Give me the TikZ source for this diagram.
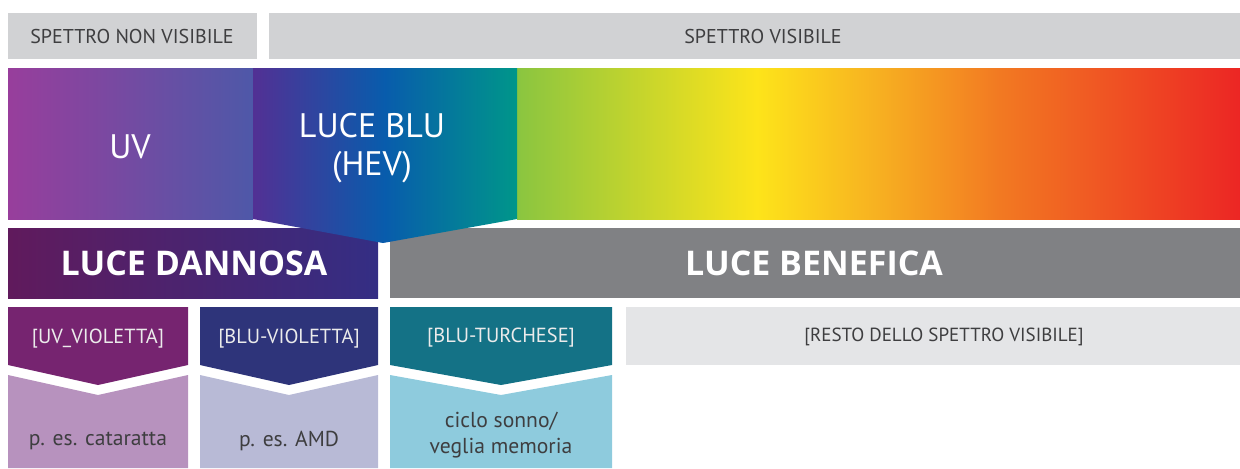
\documentclass[tikz,border=0pt]{standalone}
\usepackage{fontspec}
\setmainfont{PT Sans}
\newfontfamily\titlefont{Open Sans}
\usepackage{xcolor}
\usepackage{tikz}
\usetikzlibrary{positioning}
\definecolor{bargray}{RGB}{209, 210, 212}
\definecolor{restogray}{RGB}{228, 229, 231}
\definecolor{textgray}{RGB}{62, 62, 64}
\definecolor{uvleft}{RGB}{152, 62, 156}
\definecolor{uvright}{RGB}{78, 88, 168}
\definecolor{hevviolet}{RGB}{82, 48, 148}
\definecolor{hevblue}{RGB}{8, 92, 172}
\definecolor{hevteal}{RGB}{0, 150, 138}
\definecolor{specgreen}{RGB}{138, 197, 64}
\definecolor{specyellow}{RGB}{253, 228, 26}
\definecolor{specamber}{RGB}{247, 176, 33}
\definecolor{specorange}{RGB}{242, 121, 34}
\definecolor{specred}{RGB}{236, 38, 36}
\definecolor{dannosaleft}{RGB}{96, 26, 92}
\definecolor{dannosaright}{RGB}{52, 46, 132}
\definecolor{beneficagray}{RGB}{128, 129, 132}
\definecolor{uvvhead}{RGB}{118, 36, 112}
\definecolor{uvvbody}{RGB}{183, 146, 190}
\definecolor{bvhead}{RGB}{46, 52, 122}
\definecolor{bvbody}{RGB}{184, 186, 214}
\definecolor{bthead}{RGB}{20, 114, 134}
\definecolor{btbody}{RGB}{142, 203, 221}
\pgfdeclarehorizontalshading{hevshade}{100bp}{color(0bp)=(hevviolet); color(25bp)=(hevviolet);
    color(50bp)=(hevblue); color(75bp)=(hevteal); color(100bp)=(hevteal)}
\pgfdeclarehorizontalshading{visshade}{100bp}{color(0bp)=(specgreen); color(25bp)=(specgreen);
    color(41.6bp)=(specyellow); color(50bp)=(specamber); color(58.4bp)=(specorange);
    color(75bp)=(specred); color(100bp)=(specred)}

\begin{document}
\begin{tikzpicture}[
    x=0.5pt, y=-0.5pt,
    lbl/.style={text=textgray, font=\fontsize{10}{11}\selectfont},
    band/.style={text=white, font=\fontsize{17}{19}\selectfont, align=center},
    title/.style={text=white, font=\titlefont\fontsize{17}{19}\selectfont\bfseries},
    tag/.style={text=white!92!black, font=\fontsize{10.2}{11}\selectfont},
    note/.style={text=textgray, font=\fontsize{10.8}{13}\selectfont, align=center}
]
    \useasboundingbox (0,0) rectangle (1240,468);

    % Spettro
    \fill[bargray] (8,13) rectangle (257,59);
    \fill[bargray] (269,13) rectangle (1240,59);
    \node[lbl] (nonvis) at (132,36) {SPETTRO NON VISIBILE};
    \node[lbl] (vis) at (763,36) {SPETTRO VISIBILE};

    % Bande di colore
    \shade[left color=uvleft, right color=uvright] (8,68) rectangle (253,219);
    \shade[shading=visshade] (517,68) rectangle (1240,219);

    % Luce dannosa / benefica
    \shade[left color=dannosaleft, right color=dannosaright] (8,228) rectangle (378,298);
    \fill[beneficagray] (390,228) rectangle (1240,298);
    \node[title] (dannosa) at (194,263) {LUCE DANNOSA};
    \node[title] (benefica) at (814,263) {LUCE BENEFICA};

    % Luce blu
    \shade[shading=hevshade] (253,68) -- (517,68) -- (517,219) -- (383,243) -- (253,219) -- cycle;
    \node[band] (uv) at (130,147) {UV};
    \node[band] (hev) at (372,148) {LUCE BLU\\(HEV)};

    % Sotto-bande
    \fill[uvvhead] (8,307) -- (188,307) -- (188,365) -- (98,385) -- (8,365) -- cycle;
    \fill[uvvbody] (8,375) -- (98,395) -- (188,375) -- (188,468) -- (8,468) -- cycle;
    \fill[bvhead] (200,307) -- (378,307) -- (378,365) -- (289,385) -- (200,365) -- cycle;
    \fill[bvbody] (200,375) -- (289,395) -- (378,375) -- (378,468) -- (200,468) -- cycle;
    \fill[bthead] (390,307) -- (612,307) -- (612,365) -- (501,385) -- (390,365) -- cycle;
    \fill[btbody] (390,375) -- (501,395) -- (612,375) -- (612,468) -- (390,468) -- cycle;
    \fill[restogray] (626,307) rectangle (1240,365);

    \node[tag] (uvviol) at (98,339) {[UV\_VIOLETTA]};
    \node[tag] (bluviol) at (289,339) {[BLU-VIOLETTA]};
    \node[tag] (bluturch) at (501,338) {[BLU-TURCHESE]};
    \node[lbl, font=\fontsize{9.5}{11}\selectfont] (resto) at (944,337) {[RESTO DELLO SPETTRO VISIBILE]};

    \node[note] (cataratta) at (98,441) {p. es. cataratta};
    \node[note] (amd) at (289,441) {p. es. AMD};
    \node[note] (sonno) at (501,435) {ciclo sonno/\\veglia memoria};
\end{tikzpicture}
\end{document}
